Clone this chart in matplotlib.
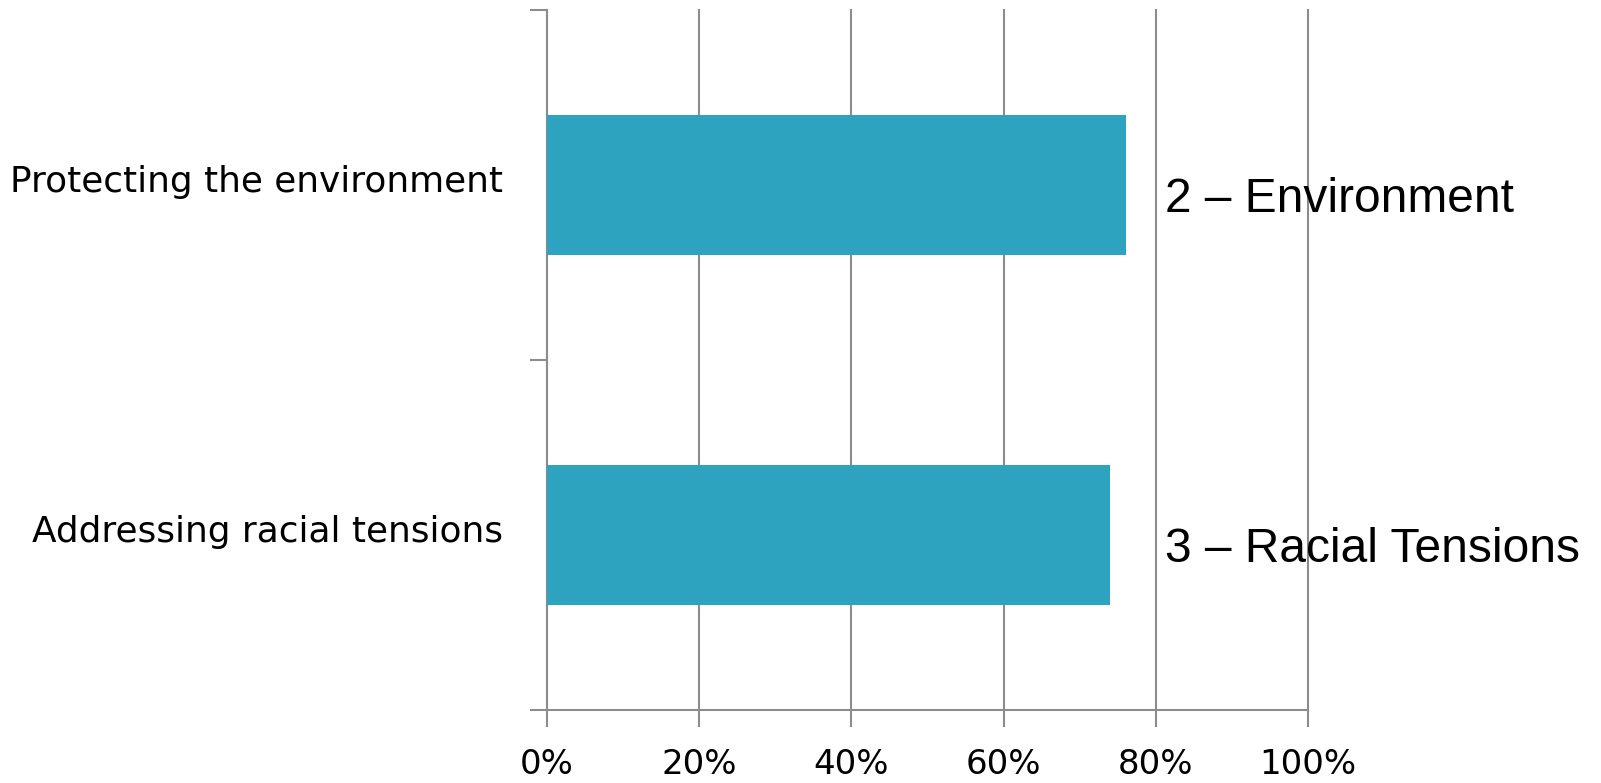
import matplotlib.pyplot as plt
from matplotlib.ticker import PercentFormatter

# Data
categories = ["Addressing racial tensions", "Protecting the environment"]
shares = [0.74, 0.761]
notes = ["3 \u2013 Racial Tensions", "2 \u2013 Environment"]

bar_color = "#2EA3BF"
grid_color = "#8C8C8C"

fig = plt.figure(figsize=(16.01, 7.83), dpi=100)
ax = fig.add_axes([0.3417, 0.0932, 0.8170 - 0.3417, 0.9872 - 0.0932])

ypos = [i + 0.5 for i in range(len(categories))]
ax.barh(ypos, shares, height=0.40, color=bar_color, zorder=3)

ax.set_xlim(0, 1)
ax.set_ylim(0, len(categories))

# x axis
ax.set_xticks([0, 0.2, 0.4, 0.6, 0.8, 1.0])
ax.xaxis.set_major_formatter(PercentFormatter(1.0, decimals=0))
ax.grid(axis="x", color=grid_color, lw=1.5, zorder=0)
for gl in ax.get_xgridlines():
    gl.set_clip_on(False)
ax.tick_params(axis="x", length=12, width=1.5, color=grid_color, pad=15)
for lbl in ax.get_xticklabels():
    lbl.set_fontfamily(["Liberation Sans Narrow", "DejaVu Sans Condensed", "DejaVu Sans"])
    lbl.set_fontsize(24.5)

# y axis: ticks at boundaries, labels at bar centers (nudged up a touch)
ax.set_yticks(range(len(categories) + 1))
ax.set_yticklabels([])
ax.set_yticks([y + 0.02 for y in ypos], minor=True)
ax.set_yticklabels(categories, minor=True, fontsize=25.8, family="DejaVu Sans")
ax.tick_params(axis="y", which="major", length=12, width=1.5, color=grid_color)
ax.tick_params(axis="y", which="minor", length=0, pad=32)

for side in ["top", "right"]:
    ax.spines[side].set_visible(False)
for side in ["left", "bottom"]:
    ax.spines[side].set_color(grid_color)
    ax.spines[side].set_linewidth(1.5)

# annotations to the right of bars
for y, txt in zip(ypos, notes):
    ax.text(0.812, y - 0.04, txt, fontsize=34.5, family="Liberation Sans",
            va="center", ha="left", zorder=4, clip_on=False)

fig.savefig("out.png", dpi=100)
